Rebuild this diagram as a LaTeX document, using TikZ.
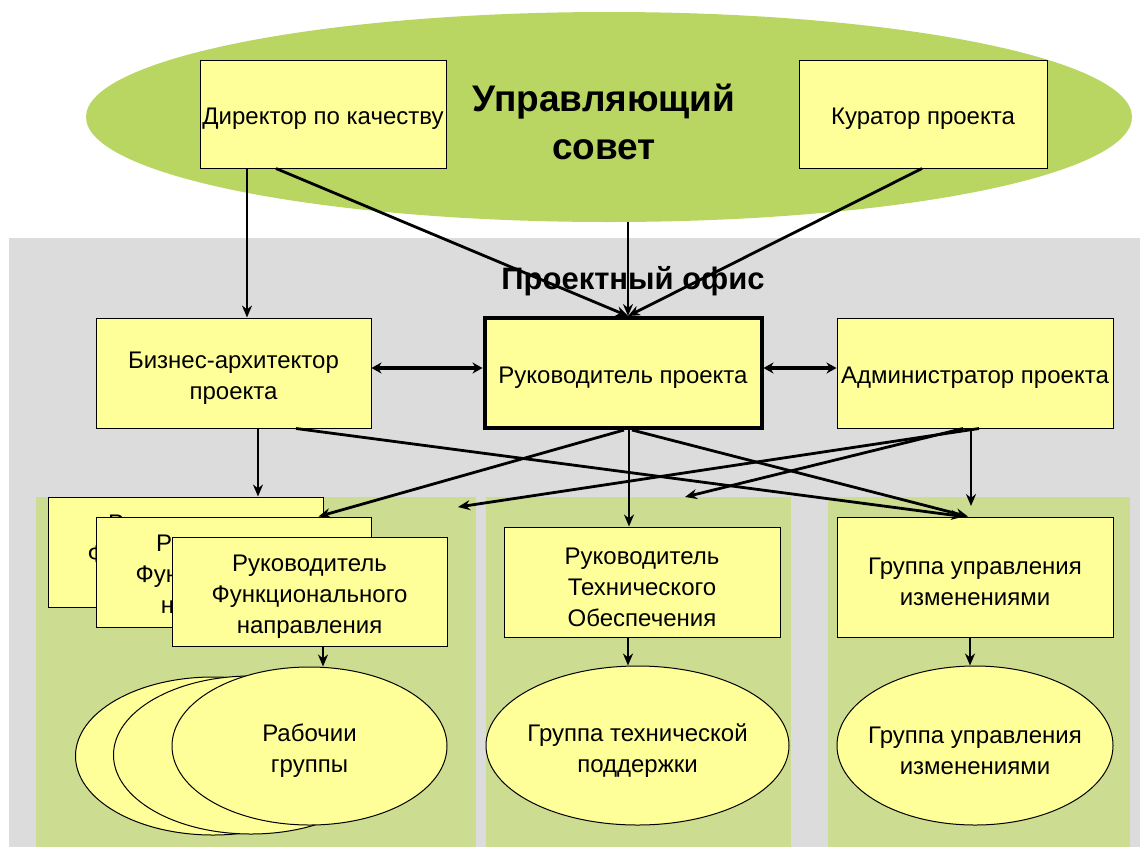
\documentclass[tikz,border=0pt]{standalone}
\usepackage{fontspec}
\setmainfont{Liberation Sans}
\usetikzlibrary{shapes.geometric,arrows.meta,calc}
\definecolor{boxyellow}{HTML}{FFFF99}
\definecolor{councilgreen}{HTML}{BAD662}
\definecolor{officegray}{HTML}{DCDCDC}
\definecolor{panelgreen}{HTML}{CCDC90}
\begin{document}
\begin{tikzpicture}[x=1pt,y=-1pt,
  btext/.style={font=\fontsize{24}{31}\selectfont, align=center, inner sep=0pt, yshift=-5pt},
  box/.style={draw=black, line width=1pt, fill=boxyellow, rectangle, inner sep=0pt, label={[btext]center:{#1}}},
  oval/.style={draw=black, line width=1pt, fill=boxyellow, ellipse, inner sep=0pt, label={[btext]center:{#1}}},
  panel/.style={fill=panelgreen, inner sep=0pt, anchor=north west},
  arr/.style={line width=2.8pt, -{Stealth[length=12pt,width=10pt]}},
  dbl/.style={line width=3.8pt, {Stealth[length=10pt,width=11pt]}-{Stealth[length=10pt,width=11pt]}},
]
\useasboundingbox (0,0) rectangle (1140,847);
\fill[white] (0,0) rectangle (1140,847);

% backgrounds
\node[fill=officegray, inner sep=0pt, anchor=north west, minimum width=1131pt, minimum height=609pt] (office) at (9,238) {};
\node[panel, minimum width=440pt, minimum height=350pt] (panelA) at (36,497) {};
\node[panel, minimum width=305pt, minimum height=350pt] (panelB) at (486,497) {};
\node[panel, minimum width=302pt, minimum height=350pt] (panelC) at (828,497) {};

% council
\node[ellipse, fill=councilgreen, inner sep=0pt, minimum width=1046pt, minimum height=210pt] (council) at (609,117) {};
\node[font=\fontsize{37}{48}\selectfont\bfseries, align=center] (ctitle) at (604,122) {Управляющий\\совет};
\node[box={Директор по качеству}, minimum width=246pt, minimum height=108pt] (dir) at (323,114) {};
\node[box={Куратор проекта}, minimum width=248pt, minimum height=108pt] (cur) at (923,114) {};

% project office
\node[font=\fontsize{31}{36}\selectfont\bfseries] (otitle) at (633,281) {Проектный офис};
\node[box={Бизнес-архитектор\\проекта}, minimum width=275pt, minimum height=110pt] (biz) at (233.5,373) {};
\node[box={Руководитель проекта}, line width=4pt, minimum width=277pt, minimum height=110pt] (pm) at (623,373) {};
\node[box={Администратор проекта}, minimum width=276pt, minimum height=110pt] (adm) at (975,373) {};

% bottom row
\node[box={Руководитель\\Функционального\\направления}, minimum width=275pt, minimum height=110pt] (fr1) at (185.5,552) {};
\node[box={Руководитель\\Функционального\\направления}, minimum width=275pt, minimum height=110pt] (fr2) at (233.5,572) {};
\node[box={Руководитель\\Функционального\\направления}, minimum width=275pt, minimum height=109pt] (fr3) at (309.5,591.5) {};
\node[box={Руководитель\\Технического\\Обеспечения}, minimum width=276pt, minimum height=110pt] (tech) at (642,582) {};
\node[box={Группа управления\\изменениями}, minimum width=276pt, minimum height=120pt] (chg) at (975,577) {};

\node[oval={}, minimum width=275pt, minimum height=158pt] (wg1) at (213,756) {};
\node[oval={}, minimum width=275pt, minimum height=158pt] (wg2) at (251,755) {};
\node[oval={Рабочии\\группы}, minimum width=275pt, minimum height=158pt] (wg3) at (309.5,746) {};
\node[oval={Группа технической\\поддержки}, minimum width=303pt, minimum height=159pt] (tsup) at (637.5,745.5) {};
\node[oval={Группа управления\\изменениями}, minimum width=276pt, minimum height=159pt] (chge) at (975,745.5) {};

% free ends
\coordinate (e1) at (458,507);
\coordinate (e2) at (685,497);
\coordinate (e3) at (971,506);

% connectors
\draw[arr] ([xshift=-76pt]dir.south) -- ([xshift=-76pt]dir.south |- biz.north);
\draw[arr] ([xshift=-47pt]dir.south) -- ([xshift=5pt]pm.north);
\draw[arr] ([xshift=5pt]pm.north |- council.south) -- ([xshift=5pt]pm.north);
\draw[arr] ([xshift=-1pt]cur.south) -- ([xshift=5pt]pm.north);
\draw[dbl] ([yshift=5pt]biz.east) -- ([yshift=5pt]pm.west);
\draw[dbl] ([yshift=5pt]pm.east) -- ([yshift=5pt]adm.west);
\draw[arr] ([xshift=24.5pt]biz.south) -- ([xshift=24.5pt]biz.south |- fr1.north);
\draw[arr] ([xshift=62.5pt]biz.south) -- ([xshift=-12pt]chg.north);
\draw[arr] ([xshift=1pt]pm.south) -- ([xshift=85pt]fr2.north);
\draw[arr] ([xshift=6pt]pm.south) -- ([xshift=6pt]pm.south |- tech.north);
\draw[arr] ([xshift=9pt]pm.south) -- ([xshift=-7pt]chg.north);
\draw[arr] ([xshift=4pt]adm.south) -- (e1);
\draw[arr] ([xshift=-12pt]adm.south) -- (e2);
\draw[arr] ([xshift=-4pt]adm.south) -- (e3);
\draw[arr] ([xshift=13.5pt]fr3.south) -- ([xshift=13.5pt]fr3.south |- wg3.north);
\draw[arr] ([xshift=-14pt]tech.south) -- ([xshift=-14pt]tech.south |- tsup.north);
\draw[arr] ([xshift=-5pt]chg.south) -- ([xshift=-5pt]chg.south |- chge.north);
\end{tikzpicture}
\end{document}
